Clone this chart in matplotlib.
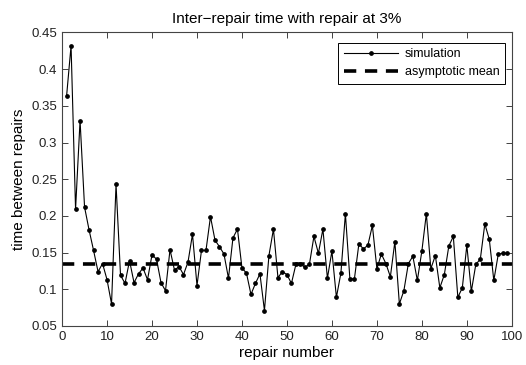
import numpy as np
import matplotlib
matplotlib.use("Agg")
import matplotlib.pyplot as plt

plt.rcParams['font.family'] = ['Liberation Sans', 'DejaVu Sans']

# simulated inter-repair times, repairs 1..99
repair_no = np.arange(1, 100)
sim_time = [
    0.363, 0.432, 0.209, 0.330, 0.212, 0.181, 0.153, 0.124, 0.135, 0.113,
    0.080, 0.243, 0.119, 0.108, 0.139, 0.109, 0.121, 0.129, 0.113, 0.147,
    0.141, 0.109, 0.098, 0.154, 0.126, 0.131, 0.120, 0.137, 0.175, 0.105,
    0.153, 0.153, 0.199, 0.167, 0.158, 0.148, 0.115, 0.170, 0.182, 0.129,
    0.122, 0.093, 0.108, 0.121, 0.071, 0.146, 0.182, 0.116, 0.124, 0.120,
    0.108, 0.134, 0.134, 0.130, 0.134, 0.172, 0.149, 0.182, 0.115, 0.152,
    0.089, 0.122, 0.203, 0.114, 0.114, 0.162, 0.155, 0.160, 0.187, 0.128,
    0.148, 0.135, 0.117, 0.165, 0.080, 0.098, 0.135, 0.145, 0.112, 0.152,
    0.203, 0.128, 0.146, 0.102, 0.120, 0.159, 0.172, 0.089, 0.102, 0.160,
    0.097, 0.134, 0.141, 0.189, 0.168, 0.112, 0.148, 0.149, 0.149,
]
mean_x = [0, 100]
mean_y = [0.135, 0.135]

xticks = list(range(0, 101, 10))
yticks = [0.05, 0.1, 0.15, 0.2, 0.25, 0.3, 0.35, 0.4, 0.45]
ytick_labels = ['0.05', '0.1', '0.15', '0.2', '0.25', '0.3', '0.35', '0.4', '0.45']

fig = plt.figure(figsize=(5.26, 3.65), dpi=100)
ax = fig.add_axes([0.118, 0.107, 0.855, 0.804])

ax.plot(repair_no, sim_time, color='black', lw=0.8, marker='o', ms=2.4,
        label='simulation')
ax.plot(mean_x, mean_y, color='black', lw=2.6, linestyle=(0, (3.4, 2.4)),
        label='asymptotic mean')

ax.set_xlim(0, 100)
ax.set_ylim(0.05, 0.45)
ax.set_xticks(xticks)
ax.set_yticks(yticks)
ax.set_yticklabels(ytick_labels)
ax.tick_params(direction='in', top=True, right=True, labelsize=9.5,
               length=4, width=0.6, colors='#222222')
for s in ax.spines.values():
    s.set_linewidth(0.8)
    s.set_color('#444444')

ax.set_title('Inter\u2212repair time with repair at 3%', fontsize=11, pad=7)
ax.set_xlabel('repair number', fontsize=11, labelpad=2)
ax.set_ylabel('time between repairs', fontsize=11, labelpad=4)

leg = ax.legend(loc='upper right', fontsize=9, fancybox=False,
                edgecolor='black', framealpha=1, handlelength=4.35,
                handletextpad=0.5, bbox_to_anchor=(0.985, 0.965),
                borderaxespad=0, borderpad=0.45, labelspacing=0.45)
leg.get_frame().set_linewidth(0.7)

fig.savefig('out.png', dpi=100)
